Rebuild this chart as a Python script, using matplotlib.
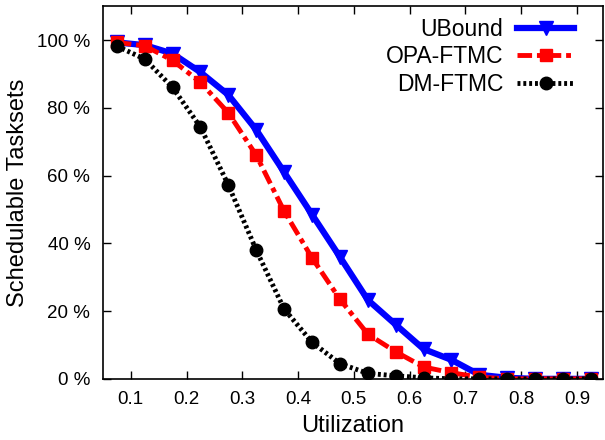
import matplotlib.pyplot as plt
from matplotlib.ticker import FuncFormatter

plt.rcParams['font.family'] = ['Liberation Sans', 'DejaVu Sans']

# utilization buckets (centres)
utilization = [0.075, 0.125, 0.175, 0.225, 0.275, 0.325, 0.375, 0.425, 0.475,
               0.525, 0.575, 0.625, 0.675, 0.725, 0.775, 0.825, 0.875, 0.925]

ubound = [99.3, 98.5, 96, 90.5, 83.8, 73.5, 61, 48.5, 36, 23.3, 16, 8.8, 5.6,
          1.2, 0.3, 0, 0, 0]
opa_ftmc = [99.3, 98.3, 94, 87.5, 78.5, 66, 49.5, 35.7, 23.5, 13.2, 8, 3.5,
            1.8, 0.5, 0, 0, 0, 0]
dm_ftmc = [98.2, 94.4, 86, 74.3, 57.2, 38, 20.6, 10.8, 4.5, 1.6, 0.9, 0.3,
           0, 0, 0, 0, 0, 0]

y_ticks = [0, 20, 40, 60, 80, 100]
x_ticks = [0.1, 0.2, 0.3, 0.4, 0.5, 0.6, 0.7, 0.8, 0.9]

fig = plt.figure(figsize=(6.05, 4.4), dpi=100)
ax = fig.add_axes([0.170, 0.139, 0.827, 0.847])

ax.plot(utilization, ubound, color='#0000ff', lw=4.5, marker='v', ms=10,
        label='UBound')
ax.plot(utilization, opa_ftmc, color='#ff0000', lw=3.5, ls=(0, (3, 1, 1, 1)),
        marker='s', ms=9, label='OPA-FTMC')
ax.plot(utilization, dm_ftmc, color='black', lw=3.5, ls=(0, (0.6, 0.6)),
        marker='o', ms=9, label='DM-FTMC')

ax.set_xlim(0.05, 0.947)
ax.set_ylim(0, 110)
ax.set_xticks(x_ticks)
ax.set_yticks(y_ticks)
ax.yaxis.set_major_formatter(FuncFormatter(lambda v, p: f"{v:.0f} %"))
ax.tick_params(direction='in', top=True, right=True, labelsize=13.5, length=6,
               width=1)
ax.tick_params(axis='x', pad=9)
ax.tick_params(axis='y', pad=9)
for s in ax.spines.values():
    s.set_linewidth(1.2)

ax.set_xlabel('Utilization', fontsize=17, labelpad=5)
ax.set_ylabel('Schedulable Tasksets', fontsize=17, labelpad=6)

ax.legend(loc='upper right', bbox_to_anchor=(0.965, 1.0), frameon=False,
          markerfirst=False, fontsize=16.5, handlelength=2.5,
          labelspacing=0.2, borderaxespad=0.1, handletextpad=0.6)

fig.savefig('out.png', dpi=100)
